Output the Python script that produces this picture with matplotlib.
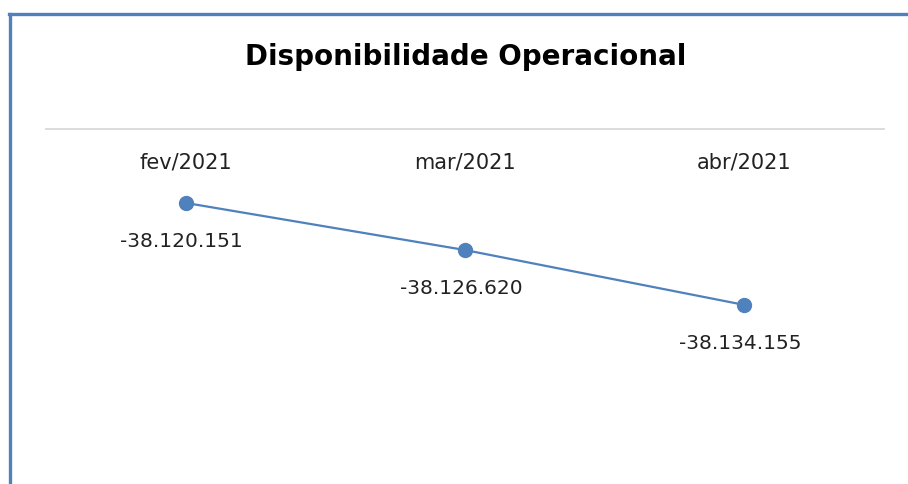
import matplotlib.pyplot as plt
from matplotlib.lines import Line2D

# Data
meses = ['fev/2021', 'mar/2021', 'abr/2021']
valores = [-38120151, -38126620, -38134155]
rotulos = ['-38.120.151', '-38.126.620', '-38.134.155']

azul = '#4F81BD'

fig = plt.figure(figsize=(9.08, 4.85), dpi=100)
ax = fig.add_axes([0.0507, 0.0, 0.9229, 0.732])

x = list(range(len(meses)))
ax.plot(x, valores, color=azul, linewidth=1.6, marker='o', markersize=10,
        markerfacecolor=azul, markeredgecolor=azul)

ax.set_xlim(-0.5, 2.5)
ax.set_ylim(-38158740, -38110000)

# category labels sit just under the axis line (top of plot area)
for i, m in enumerate(meses):
    ax.text(i, 1 - 33 / 355, m, transform=ax.get_xaxis_transform(),
            ha='center', va='center', fontsize=15, color='#222222')

# data labels below each point
for i, (v, r) in enumerate(zip(valores, rotulos)):
    ax.annotate(r, (i, v), xytext=(-3, -27), textcoords='offset points',
                ha='center', va='center', fontsize=14.5, color='#222222')

for s in ['left', 'right', 'bottom']:
    ax.spines[s].set_visible(False)
ax.spines['top'].set_color('#D9D9D9')
ax.spines['top'].set_linewidth(1.3)
ax.set_xticks([])
ax.set_yticks([])
ax.patch.set_alpha(0)

fig.text(0.513, 1 - 57 / 485, 'Disponibilidade Operacional', ha='center', va='center',
         fontsize=20, fontweight='bold', color='black')

# chart border (left and top edges)
fig.add_artist(Line2D([0.011, 0.011], [0, 0.969], color=azul, linewidth=2.4))
fig.add_artist(Line2D([0.0097, 1.0], [0.969, 0.969], color=azul, linewidth=2.4))

fig.savefig('out.png', dpi=100)
